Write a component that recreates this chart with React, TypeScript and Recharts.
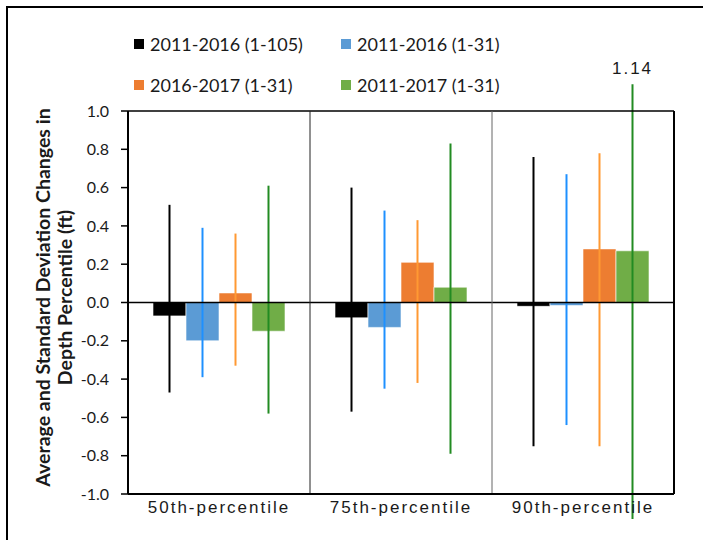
import { BarChart, Bar, XAxis, YAxis, ErrorBar, ReferenceLine, LabelList, Label } from 'recharts';

const categories = ['50th-percentile', '75th-percentile', '90th-percentile'];

const seriesNames = ['2011-2016 (1-105)', '2011-2016 (1-31)', '2016-2017 (1-31)', '2011-2017 (1-31)'];
const barColors = ['#000000', '#5B9BD5', '#ED7D31', '#70AD47'];
const errColors = ['#000000', '#1E90FF', '#FF9933', '#228B22'];

// average change (ft) for each series
const avg1105 = [-0.07, -0.08, -0.02];
const avg1116 = [-0.2, -0.13, -0.016];
const avg1617 = [0.05, 0.21, 0.28];
const avg1117 = [-0.15, 0.08, 0.27];

// standard deviation whisker ends (ft)
const hi1105 = [0.51, 0.6, 0.76];
const lo1105 = [-0.47, -0.57, -0.75];
const hi1116 = [0.39, 0.48, 0.67];
const lo1116 = [-0.39, -0.45, -0.64];
const hi1617 = [0.36, 0.43, 0.78];
const lo1617 = [-0.33, -0.42, -0.75];
const hi1117 = [0.61, 0.83, 1.14];
const lo1117 = [-0.58, -0.79, -1.13];

const yTicks = [-1, -0.8, -0.6, -0.4, -0.2, 0, 0.2, 0.4, 0.6, 0.8, 1];

const averages = [avg1105, avg1116, avg1617, avg1117];
const highs = [hi1105, hi1116, hi1617, hi1117];
const lows = [lo1105, lo1116, lo1617, lo1117];

const data = categories.map((name, i) => {
  // pos: centre of the group on the numeric divider axis
  const row: Record<string, any> = { name, pos: i + 0.5 };
  averages.forEach((avg, s) => {
    row[`s${s}`] = avg[i];
    // ErrorBar wants [below, above] distances from the bar value
    row[`e${s}`] = [avg[i] - lows[s][i], highs[s][i] - avg[i]];
    row[`h${s}`] = highs[s][i];
  });
  return row;
});

const CategoryTick = ({ x, y, payload }: any) => (
  <text
    x={x}
    y={y}
    dy={11}
    textAnchor="middle"
    fill="#1a1a1a"
    fontFamily="Liberation Sans"
    fontSize={17}
    letterSpacing={2}
  >
    {payload.value}
  </text>
);

// value label for whiskers that run past the top of the axis
const makeOverflowLabel = (s: number) => (props: any) => {
  const { x, y, width, height, value, index } = props;
  if (value <= 1) return null;
  const v = averages[s][index];
  const zeroY = v >= 0 ? y + height : y;
  const pxPerUnit = Math.abs(height / v);
  return (
    <text
      x={x + width / 2}
      y={zeroY - value * pxPerUnit - 10}
      textAnchor="middle"
      fill="#1a1a1a"
      fontFamily="Liberation Sans"
      fontSize={17}
      letterSpacing={2}
    >
      {value.toFixed(2)}
    </text>
  );
};

const YTitle = ({ viewBox }: any) => {
  const cy = viewBox.y + viewBox.height / 2 - 5;
  const style = { fontFamily: 'Lato', fontWeight: 700, fontSize: 19.5, fill: '#1a1a1a' };
  return (
    <g>
      <text
        transform={`translate(${viewBox.x + 14},${cy}) rotate(-90)`}
        textAnchor="middle"
        dominantBaseline="central"
        {...style}
      >
        Average and Standard Deviation Changes in
      </text>
      <text
        transform={`translate(${viewBox.x + 36},${cy}) rotate(-90)`}
        textAnchor="middle"
        dominantBaseline="central"
        {...style}
      >
        Depth Percentile (ft)
      </text>
    </g>
  );
};

function LegendBlock() {
  const cols = [126, 333];
  const rows = [36, 77];
  return (
    <>
      {seriesNames.map((name, i) => (
        <div
          key={name}
          style={{
            position: 'absolute',
            left: cols[i % 2],
            top: rows[Math.floor(i / 2)] - 12,
            height: 24,
            display: 'flex',
            alignItems: 'center',
            fontFamily: 'Lato',
            fontSize: 18,
            color: '#1a1a1a',
            whiteSpace: 'nowrap',
          }}
        >
          <span style={{ width: 10, height: 10, background: barColors[i], marginRight: 6 }} />
          {name}
        </div>
      ))}
    </>
  );
}

export default function App() {
  return (
    <div
      style={{
        position: 'absolute',
        left: 6,
        top: 6,
        width: 697,
        height: 534,
        boxSizing: 'border-box',
        borderLeft: '2px solid #000',
        borderTop: '2px solid #000',
        background: '#fff',
      }}
    >
      <LegendBlock />
      <BarChart
        width={695}
        height={532}
        data={data}
        margin={{ top: 103, right: 29, bottom: 16, left: 20 }}
        barSize={33}
        barGap={0}
        style={{ position: 'absolute', left: 0, top: 0 }}
      >
        <XAxis
          dataKey="name"
          height={30}
          tickLine={false}
          axisLine={{ stroke: '#000', strokeWidth: 2 }}
          tick={<CategoryTick />}
        />
        {/* numeric companion axis, used only to place the group dividers */}
        <XAxis xAxisId="sep" type="number" dataKey="pos" domain={[0, 3]} height={0} hide />
        <YAxis
          width={100}
          domain={[-1, 1]}
          allowDataOverflow
          ticks={yTicks}
          interval={0}
          tickFormatter={(v: number) => v.toFixed(1)}
          tickSize={7}
          tickMargin={12}
          tickLine={{ stroke: '#000', strokeWidth: 1.5 }}
          axisLine={{ stroke: '#000', strokeWidth: 2 }}
          tick={{ fontFamily: 'Lato', fontSize: 16, fill: '#1a1a1a' }}
        >
          <Label content={<YTitle />} />
        </YAxis>
        {seriesNames.map((name, s) => (
          <Bar
            key={name}
            dataKey={`s${s}`}
            name={name}
            fill={barColors[s]}
            stroke="#ffffff"
            strokeOpacity={0.6}
            strokeWidth={1}
            isAnimationActive={false}
          >
            <ErrorBar dataKey={`e${s}`} width={0} stroke={errColors[s]} strokeWidth={2} direction="y" />
            <LabelList dataKey={`h${s}`} content={makeOverflowLabel(s)} />
          </Bar>
        ))}
        <ReferenceLine y={0} stroke="#000" strokeWidth={1.5} />
        <ReferenceLine y={1} stroke="#000" strokeWidth={1.5} />
        <ReferenceLine x={1} xAxisId="sep" stroke="#222" strokeWidth={1} />
        <ReferenceLine x={2} xAxisId="sep" stroke="#666" strokeWidth={1} />
        <ReferenceLine x={3} xAxisId="sep" stroke="#000" strokeWidth={2} />
      </BarChart>
    </div>
  );
}
